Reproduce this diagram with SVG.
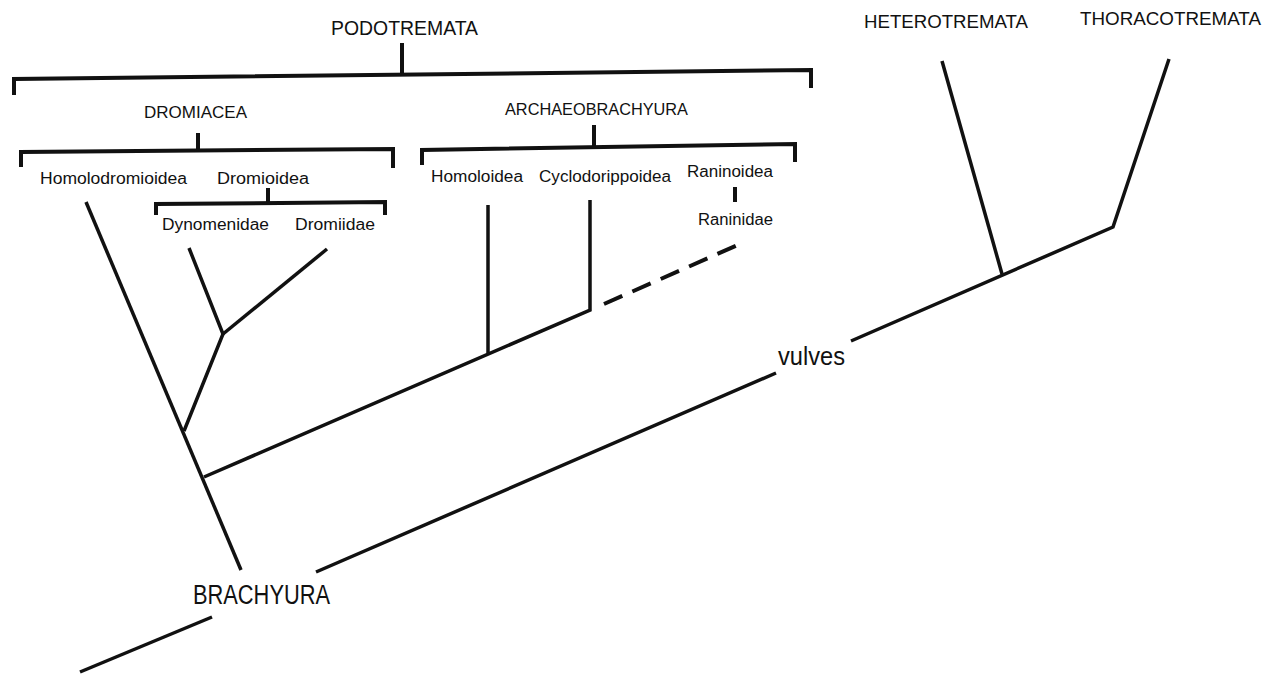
<svg xmlns="http://www.w3.org/2000/svg" width="1280" height="675" viewBox="0 0 1280 675">
<style>
.ln{fill:none;stroke:#111;stroke-width:3.5;stroke-linejoin:miter}
.br{fill:none;stroke:#111;stroke-width:4;stroke-linejoin:miter}
.dash{fill:none;stroke:#111;stroke-width:4;stroke-dasharray:20 11}
text{font-family:"Liberation Sans",Arial,sans-serif;fill:#111}
.t1{font-size:20px}
.t2{font-size:17px}
.t3{font-size:16px}
.t4{font-size:19px}
.big{font-size:27px}
</style>
<rect width="1280" height="675" fill="#fff"/>
<g id="podotremata">
<text class="t1" x="331" y="35" textLength="147" lengthAdjust="spacingAndGlyphs">PODOTREMATA</text>
<path class="br" d="M402,43 V74"/>
<path class="br" d="M14,95 V79 L811,70 V88"/>
</g>
<g id="dromiacea">
<text class="t2" x="144" y="118" textLength="103" lengthAdjust="spacingAndGlyphs">DROMIACEA</text>
<path class="br" d="M198,133 V150"/>
<path class="br" d="M21,167 V152 L393,149 V168"/>
</g>
<g id="homolodromioidea">
<text class="t3" x="40" y="184" textLength="147" lengthAdjust="spacingAndGlyphs">Homolodromioidea</text>
</g>
<g id="dromioidea">
<text class="t3" x="217" y="184" textLength="92" lengthAdjust="spacingAndGlyphs">Dromioidea</text>
<path class="br" d="M268,188 V203"/>
<path class="br" d="M156,215 V204 L385,202 V215"/>
</g>
<g id="dynomenidae">
<text class="t3" x="162" y="230" textLength="107" lengthAdjust="spacingAndGlyphs">Dynomenidae</text>
</g>
<g id="dromiidae">
<text class="t3" x="295" y="230" textLength="80" lengthAdjust="spacingAndGlyphs">Dromiidae</text>
</g>
<g id="archaeobrachyura">
<text class="t2" x="505" y="115" textLength="183" lengthAdjust="spacingAndGlyphs">ARCHAEOBRACHYURA</text>
<path class="br" d="M594,125 V147"/>
<path class="br" d="M422,165 V150 L795,144 V162"/>
</g>
<g id="homoloidea">
<text class="t3" x="431" y="182" textLength="92" lengthAdjust="spacingAndGlyphs">Homoloidea</text>
</g>
<g id="cyclodorippoidea">
<text class="t3" x="539" y="182" textLength="132" lengthAdjust="spacingAndGlyphs">Cyclodorippoidea</text>
</g>
<g id="raninoidea">
<text class="t3" x="687" y="177" textLength="86" lengthAdjust="spacingAndGlyphs">Raninoidea</text>
<path class="br" d="M735,187 V202"/>
</g>
<g id="raninidae">
<text class="t3" x="698" y="225" textLength="75" lengthAdjust="spacingAndGlyphs">Raninidae</text>
</g>
<g id="heterotremata">
<text class="t4" x="864" y="28" textLength="164" lengthAdjust="spacingAndGlyphs">HETEROTREMATA</text>
</g>
<g id="thoracotremata">
<text class="t4" x="1080" y="25" textLength="181" lengthAdjust="spacingAndGlyphs">THORACOTREMATA</text>
</g>
<g id="vulves">
<text x="778" y="365" font-size="25" textLength="67" lengthAdjust="spacingAndGlyphs">vulves</text>
</g>
<g id="brachyura">
<text class="big" x="193" y="604" textLength="137" lengthAdjust="spacingAndGlyphs">BRACHYURA</text>
</g>
<g id="connectors">
<path class="ln" d="M86,202 L241,570"/>
<path class="ln" d="M184,431 L223,334 L189,248"/>
<path class="ln" d="M223,334 L327,249"/>
<path class="ln" d="M204,477 L590,310 V200"/>
<path class="ln" d="M488,353 V205"/>
<path class="dash" d="M604,304 L740,244"/>
<path class="ln" d="M942,61 L1002,274"/>
<path class="ln" d="M1169,59 L1113,227 L851,341"/>
<path class="ln" d="M776,373 L316,572"/>
<path class="ln" d="M212,617 L80,672"/>
</g>
</svg>
